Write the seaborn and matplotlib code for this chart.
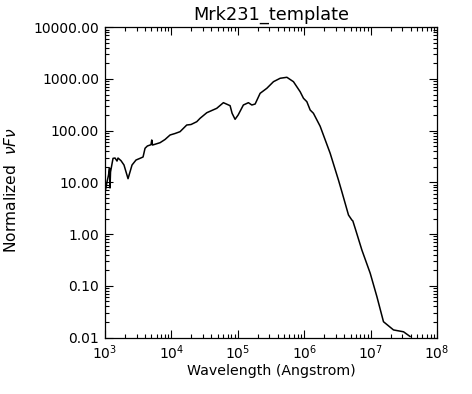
import matplotlib
matplotlib.use("Agg")
import matplotlib.pyplot as plt
import matplotlib.ticker as mticker
import numpy as np
import pandas as pd
import seaborn as sns

wavelength = [1017, 1072, 1130, 1169, 1189, 1211, 1321, 1416, 1517, 1570,
              1742, 1932, 2223, 2553, 2931, 3365, 3741, 4009, 4345, 4932,
              5058, 5200, 6745, 8017, 9550, 11350, 13490, 17020, 19770, 24100,
              27040, 34120, 48190, 60670, 76560, 82040, 90990, 101200, 121300, 144500,
              162600, 182400, 216800, 273500, 344400, 434500, 548300, 688700, 869000, 975000,
              1096000, 1230000, 1377000, 1738000, 2460000, 3281000, 3690000, 4645000, 5224000, 5400000,
              5861000, 7390000, 9863000, 12450000, 15630000, 22130000, 31330000, 39540000]
flux = [7.13, 10.2, 13.9, 19.0, 7.80, 15.9, 29.2, 29.6, 25.9, 29.6,
        26.3, 21.7, 11.8, 21.7, 27.1, 29.2, 31.0, 45.7, 50.6, 53.6,
        66.1, 52.8, 58.6, 67.6, 82.6, 88.3, 95.7, 128.8, 131.8, 149.3,
        173.8, 222.8, 271.0, 348.3, 304.8, 217.3, 166.0, 201.4, 314.1, 348.3,
        314.1, 328.1, 528.4, 660.7, 887.2, 1033, 1079, 887.2, 567.5, 423.6,
        363.9, 251.2, 217.3, 122.0, 36.6, 11.1, 6.61, 2.34, 1.87, 1.80,
        1.29, 0.492, 0.175, 0.0615, 0.0202, 0.0140, 0.0129, 0.0104]

title = "Mrk231_template"
xlabel = "Wavelength (Angstrom)"
ylabel = "Normalized  $\\nu F\\nu$"
ytick_values = [0.01, 0.1, 1, 10, 100, 1000, 10000]

sns.set_style("ticks")
plt.rcParams['font.family'] = ['DejaVu Sans']
plt.rcParams['mathtext.fontset'] = 'dejavusans'
plt.rcParams['text.color'] = 'black'
plt.rcParams['axes.labelcolor'] = 'black'

df = pd.DataFrame({"wavelength": wavelength, "flux": flux})

fig = plt.figure(figsize=(4.72, 3.94), dpi=100)
ax = fig.add_axes([105/472, 1-337.5/394, (437-105)/472, (337.5-27.3)/394])
sns.lineplot(data=df, x="wavelength", y="flux", ax=ax, sort=False,
             estimator=None, color="black", linewidth=1.1)
ax.set_xscale("log")
ax.set_yscale("log")
ax.set_xlim(1e3, 1e8)
ax.set_ylim(0.01, 10000)

ax.set_yticks(ytick_values)
ax.yaxis.set_major_formatter(mticker.FuncFormatter(lambda v, p: "%.2f" % v))
ax.xaxis.set_major_locator(mticker.LogLocator(base=10, numticks=10))
ax.xaxis.set_minor_locator(mticker.LogLocator(base=10, subs=np.arange(2, 10), numticks=20))
ax.yaxis.set_minor_locator(mticker.LogLocator(base=10, subs=np.arange(2, 10), numticks=20))
ax.xaxis.set_minor_formatter(mticker.NullFormatter())
ax.yaxis.set_minor_formatter(mticker.NullFormatter())

ax.tick_params(which="both", direction="in", top=True, right=True,
               width=0.8, color="black", labelsize=10, labelcolor="black")
ax.tick_params(which="major", length=6)
ax.tick_params(which="minor", length=3)
ax.tick_params(axis="y", which="major", pad=4.3)
ax.tick_params(axis="x", which="major", pad=4)
for s in ax.spines.values():
    s.set_linewidth(0.9)
    s.set_color("black")

ax.set_title(title, fontsize=12.8, pad=5.5, color="black")
ax.set_xlabel(xlabel, fontsize=10.2, labelpad=2)
ax.set_ylabel(ylabel, fontsize=11.2)
ax.yaxis.set_label_coords(-0.259, 0.4755)

fig.savefig("out.png", dpi=100, facecolor="white")
